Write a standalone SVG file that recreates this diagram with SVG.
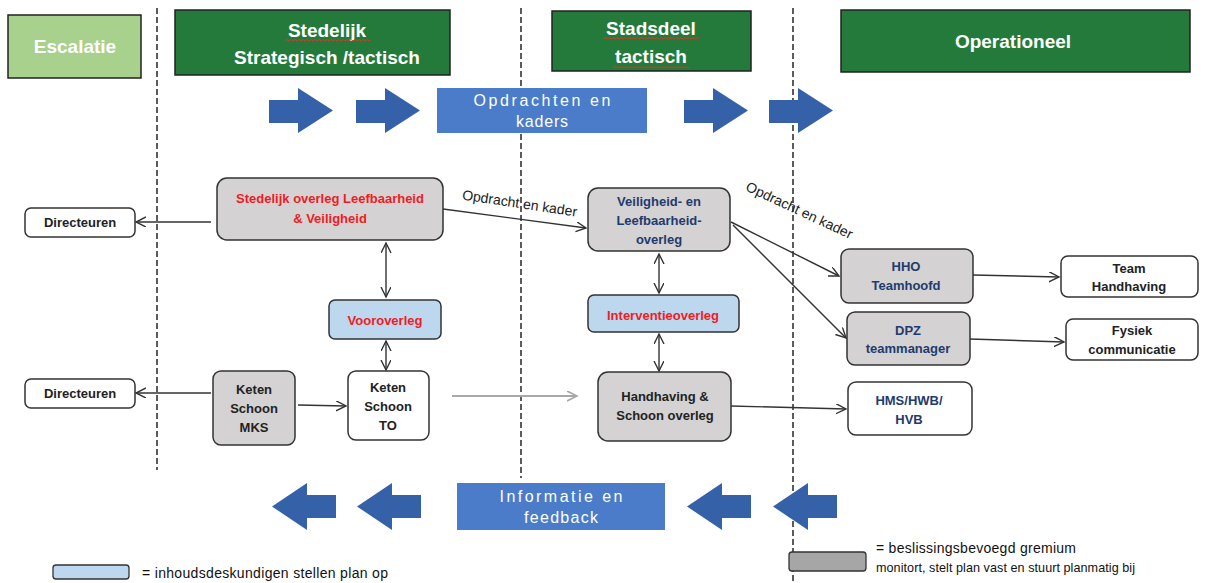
<svg xmlns="http://www.w3.org/2000/svg" xmlns:xlink="http://www.w3.org/1999/xlink" width="1208" height="583" viewBox="0 0 1208 583">
<style>
  text { font-family: "Liberation Sans", Arial, sans-serif; }
  .hdr { fill: #ffffff; font-weight: bold; font-size: 19px; text-anchor: middle; }
  .node { stroke: #333333; stroke-width: 1.5; }
  .gray { fill: #d4d2d2; }
  .blue { fill: #bdd7ee; }
  .white { fill: #ffffff; }
  .t { font-size: 13px; font-weight: bold; text-anchor: middle; fill: #222222; }
  .red { fill: #ee1c25; }
  .navy { fill: #1f3b6e; }
  .conn { stroke: #333333; stroke-width: 1.4; fill: none; }
  .dash { stroke: #333333; stroke-width: 1.6; stroke-dasharray: 6 3; fill: none; }
  .barrow { fill: #3461a8; }
  .bluebox { fill: #4a7cc9; }
  .bt { fill: #ffffff; font-size: 16px; text-anchor: middle; }
  .squig { stroke: #d23a2a; stroke-width: 1; fill: none; }
  .lbl { font-size: 14px; fill: #222222; text-anchor: middle; }
  .leg { font-size: 14px; fill: #111111; }
</style>
<defs>
  <marker id="ah" markerWidth="12" markerHeight="12" refX="10" refY="5" orient="auto-start-reverse" markerUnits="userSpaceOnUse">
    <path d="M0,0 L10,5 L0,10" fill="none" stroke="#333333" stroke-width="1.4"/>
  </marker>
  <marker id="ahg" markerWidth="12" markerHeight="12" refX="10" refY="5" orient="auto" markerUnits="userSpaceOnUse">
    <path d="M0,0 L10,5 L0,10" fill="none" stroke="#a8a8a8" stroke-width="1.6"/>
  </marker>
  <path id="rarrow" d="M0,12 L29,12 L29,0 L64,22.5 L29,45 L29,35 L0,35 Z"/>
  <path id="larrow" d="M0,23.5 L35,0 L35,12 L64,12 L64,35 L35,35 L35,47 Z"/>
</defs>

<rect width="1208" height="583" fill="#ffffff"/>

<!-- dashed lane separators -->
<g id="lanes">
  <line class="dash" x1="157" y1="8" x2="157" y2="470"/>
  <line class="dash" x1="521" y1="8" x2="521" y2="478"/>
  <line class="dash" x1="793" y1="8" x2="793" y2="583"/>
</g>

<!-- headers -->
<g id="hdr-escalatie">
  <rect x="8" y="15" width="133" height="63" fill="#a9d18e" stroke="#222222" stroke-width="1.5"/>
  <text class="hdr" x="75" y="53">Escalatie</text>
</g>
<g id="hdr-stedelijk">
  <rect x="175" y="10" width="275" height="65" fill="#237a3a" stroke="#222222" stroke-width="1.5"/>
  <text class="hdr" x="327" y="37">Stedelijk</text>
  <text class="hdr" x="327" y="64">Strategisch /tactisch</text>
  <path class="squig" d="M285,41 l2,-1.5 l2,1.5 l2,-1.5 l2,1.5 l2,-1.5 l2,1.5 l2,-1.5 l2,1.5 l2,-1.5 l2,1.5 l2,-1.5 l2,1.5 l2,-1.5 l2,1.5 l2,-1.5 l2,1.5 l2,-1.5 l2,1.5 l2,-1.5 l2,1.5 l2,-1.5 l2,1.5 l2,-1.5 l2,1.5 l2,-1.5 l2,1.5 l2,-1.5 l2,1.5 l2,-1.5 l2,1.5 l2,-1.5 l2,1.5 l2,-1.5 l2,1.5 l2,-1.5 l2,1.5 l2,-1.5 l2,1.5 l2,-1.5 l2,1.5 l2,-1.5 l2,1.5 l2,-1.5"/>
</g>
<g id="hdr-stadsdeel">
  <rect x="552" y="11" width="199" height="60" fill="#237a3a" stroke="#222222" stroke-width="1.5"/>
  <text class="hdr" x="651" y="35">Stadsdeel</text>
  <text class="hdr" x="651" y="63">tactisch</text>
  <path class="squig" d="M603,39 l2,-1.5 l2,1.5 l2,-1.5 l2,1.5 l2,-1.5 l2,1.5 l2,-1.5 l2,1.5 l2,-1.5 l2,1.5 l2,-1.5 l2,1.5 l2,-1.5 l2,1.5 l2,-1.5 l2,1.5 l2,-1.5 l2,1.5 l2,-1.5 l2,1.5 l2,-1.5 l2,1.5 l2,-1.5 l2,1.5 l2,-1.5 l2,1.5 l2,-1.5 l2,1.5 l2,-1.5 l2,1.5 l2,-1.5 l2,1.5 l2,-1.5 l2,1.5 l2,-1.5 l2,1.5 l2,-1.5 l2,1.5 l2,-1.5 l2,1.5 l2,-1.5 l2,1.5 l2,-1.5 l2,1.5 l2,-1.5 l2,1.5 l2,-1.5 l2,1.5"/>
  <path class="squig" d="M613,68 l2,-1.5 l2,1.5 l2,-1.5 l2,1.5 l2,-1.5 l2,1.5 l2,-1.5 l2,1.5 l2,-1.5 l2,1.5 l2,-1.5 l2,1.5 l2,-1.5 l2,1.5 l2,-1.5 l2,1.5 l2,-1.5 l2,1.5 l2,-1.5 l2,1.5 l2,-1.5 l2,1.5 l2,-1.5 l2,1.5 l2,-1.5 l2,1.5 l2,-1.5 l2,1.5 l2,-1.5 l2,1.5 l2,-1.5 l2,1.5 l2,-1.5 l2,1.5 l2,-1.5 l2,1.5 l2,-1.5 l2,1.5"/>
</g>
<g id="hdr-operationeel">
  <rect x="841" y="10" width="349" height="62" fill="#237a3a" stroke="#222222" stroke-width="1.5"/>
  <text class="hdr" x="1013" y="48">Operationeel</text>
</g>

<!-- top flow: Opdrachten en kaders -->
<g id="flow-top">
  <use xlink:href="#rarrow" class="barrow" x="269" y="88"/>
  <use xlink:href="#rarrow" class="barrow" x="356" y="88"/>
  <use xlink:href="#rarrow" class="barrow" x="684" y="88"/>
  <use xlink:href="#rarrow" class="barrow" x="769" y="88"/>
  <rect class="bluebox" x="437" y="88" width="210" height="45"/>
  <text class="bt" x="542" y="106" textLength="137">Opdrachten en</text>
  <text class="bt" x="542" y="127" textLength="52">kaders</text>
</g>

<!-- bottom flow: Informatie en feedback -->
<g id="flow-bottom">
  <use xlink:href="#larrow" class="barrow" x="272" y="483"/>
  <use xlink:href="#larrow" class="barrow" x="357" y="483"/>
  <use xlink:href="#larrow" class="barrow" x="687" y="483"/>
  <use xlink:href="#larrow" class="barrow" x="773" y="483"/>
  <rect class="bluebox" x="457" y="483" width="208" height="47"/>
  <text class="bt" x="561" y="502" textLength="123">Informatie en</text>
  <text class="bt" x="561" y="523" textLength="74">feedback</text>
</g>

<!-- connectors -->
<g id="connectors">
  <line class="conn" x1="211" y1="222" x2="136" y2="222" marker-end="url(#ah)"/>
  <line class="conn" x1="211" y1="393" x2="136" y2="393" marker-end="url(#ah)"/>
  <line class="conn" x1="443" y1="209" x2="586" y2="228" marker-end="url(#ah)"/>
  <line class="conn" x1="386" y1="243" x2="386" y2="297" marker-start="url(#ah)" marker-end="url(#ah)"/>
  <line class="conn" x1="386" y1="341" x2="386" y2="370" marker-start="url(#ah)" marker-end="url(#ah)"/>
  <line class="conn" x1="298" y1="405" x2="346" y2="406" marker-end="url(#ah)"/>
  <line x1="452" y1="396" x2="577" y2="396" stroke="#a8a8a8" stroke-width="2" marker-end="url(#ahg)"/>
  <line class="conn" x1="659" y1="254" x2="659" y2="293" marker-start="url(#ah)" marker-end="url(#ah)"/>
  <line class="conn" x1="659" y1="334" x2="659" y2="371" marker-start="url(#ah)" marker-end="url(#ah)"/>
  <line class="conn" x1="731" y1="222" x2="839" y2="276" marker-end="url(#ah)"/>
  <line class="conn" x1="733" y1="225" x2="846" y2="338" marker-end="url(#ah)"/>
  <line class="conn" x1="731" y1="406" x2="846" y2="409" marker-end="url(#ah)"/>
  <line class="conn" x1="973" y1="275" x2="1059" y2="277" marker-end="url(#ah)"/>
  <line class="conn" x1="970" y1="339" x2="1064" y2="342" marker-end="url(#ah)"/>
  <text class="lbl" transform="translate(519,208) rotate(8.5)">Opdracht en kader</text>
  <text class="lbl" transform="translate(799,211) rotate(25)" y="4">Opdracht en kader</text>
</g>

<!-- nodes -->
<g id="n-directeuren1">
  <rect class="node white" x="25" y="208" width="110" height="29" rx="6"/>
  <text class="t" x="80" y="227">Directeuren</text>
</g>
<g id="n-directeuren2">
  <rect class="node white" x="25" y="379" width="110" height="29" rx="6"/>
  <text class="t" x="80" y="398">Directeuren</text>
</g>
<g id="n-stedelijk-overleg">
  <rect class="node gray" x="217" y="178" width="226" height="62" rx="10"/>
  <text class="t red" x="330" y="203">Stedelijk overleg Leefbaarheid</text>
  <text class="t red" x="330" y="223">&amp; Veiligheid</text>
</g>
<g id="n-vooroverleg">
  <rect class="node blue" x="329" y="300" width="112" height="39" rx="6"/>
  <text class="t red" x="385" y="325">Vooroverleg</text>
</g>
<g id="n-keten-mks">
  <rect class="node gray" x="213" y="371" width="82" height="74" rx="8"/>
  <text class="t" x="254" y="394">Keten</text>
  <text class="t" x="254" y="413">Schoon</text>
  <text class="t" x="254" y="432">MKS</text>
</g>
<g id="n-keten-to">
  <rect class="node white" x="348" y="371" width="81" height="69" rx="8"/>
  <text class="t" x="388" y="392">Keten</text>
  <text class="t" x="388" y="411">Schoon</text>
  <text class="t" x="388" y="430">TO</text>
</g>
<g id="n-veiligheid">
  <rect class="node gray" x="588" y="188" width="142" height="63" rx="10"/>
  <text class="t navy" x="659" y="206">Veiligheid- en</text>
  <text class="t navy" x="659" y="225">Leefbaarheid-</text>
  <text class="t navy" x="659" y="244">overleg</text>
</g>
<g id="n-interventie">
  <rect class="node blue" x="588" y="295" width="151" height="37" rx="6"/>
  <text class="t red" x="663" y="320">Interventieoverleg</text>
</g>
<g id="n-handhaving">
  <rect class="node gray" x="598" y="372" width="133" height="69" rx="10"/>
  <text class="t" x="665" y="401">Handhaving &amp;</text>
  <text class="t" x="665" y="420">Schoon overleg</text>
</g>
<g id="n-hho">
  <rect class="node gray" x="841" y="249" width="132" height="54" rx="8"/>
  <text class="t navy" x="906" y="271">HHO</text>
  <text class="t navy" x="906" y="290">Teamhoofd</text>
</g>
<g id="n-dpz">
  <rect class="node gray" x="847" y="312" width="123" height="53" rx="8"/>
  <text class="t navy" x="908" y="335">DPZ</text>
  <text class="t navy" x="908" y="353">teammanager</text>
</g>
<g id="n-hms">
  <rect class="node white" x="848" y="382" width="124" height="53" rx="8"/>
  <text class="t navy" x="909" y="405">HMS/HWB/</text>
  <text class="t navy" x="909" y="424">HVB</text>
</g>
<g id="n-team-handhaving">
  <rect class="node white" x="1061" y="256" width="137" height="41" rx="7"/>
  <text class="t" x="1129" y="273">Team</text>
  <text class="t" x="1129" y="291">Handhaving</text>
</g>
<g id="n-fysiek">
  <rect class="node white" x="1066" y="319" width="132" height="41" rx="7"/>
  <text class="t" x="1132" y="335">Fysiek</text>
  <text class="t" x="1132" y="354">communicatie</text>
</g>

<!-- legend -->
<g id="legend-blue">
  <rect x="53" y="565" width="76" height="14" rx="3" fill="#bdd7ee" stroke="#333333" stroke-width="1.3"/>
  <text class="leg" x="142" y="578" textLength="246">=  inhoudsdeskundigen stellen plan op</text>
</g>
<g id="legend-gray">
  <rect x="789" y="552" width="77" height="19" rx="3" fill="#a6a6a6" stroke="#333333" stroke-width="1.3"/>
  <text class="leg" x="876" y="553" textLength="200">=  beslissingsbevoegd gremium</text>
  <text class="leg" x="876" y="572" style="font-size:12.6px" textLength="259">monitort, stelt plan vast en stuurt planmatig bij</text>
</g>
</svg>
